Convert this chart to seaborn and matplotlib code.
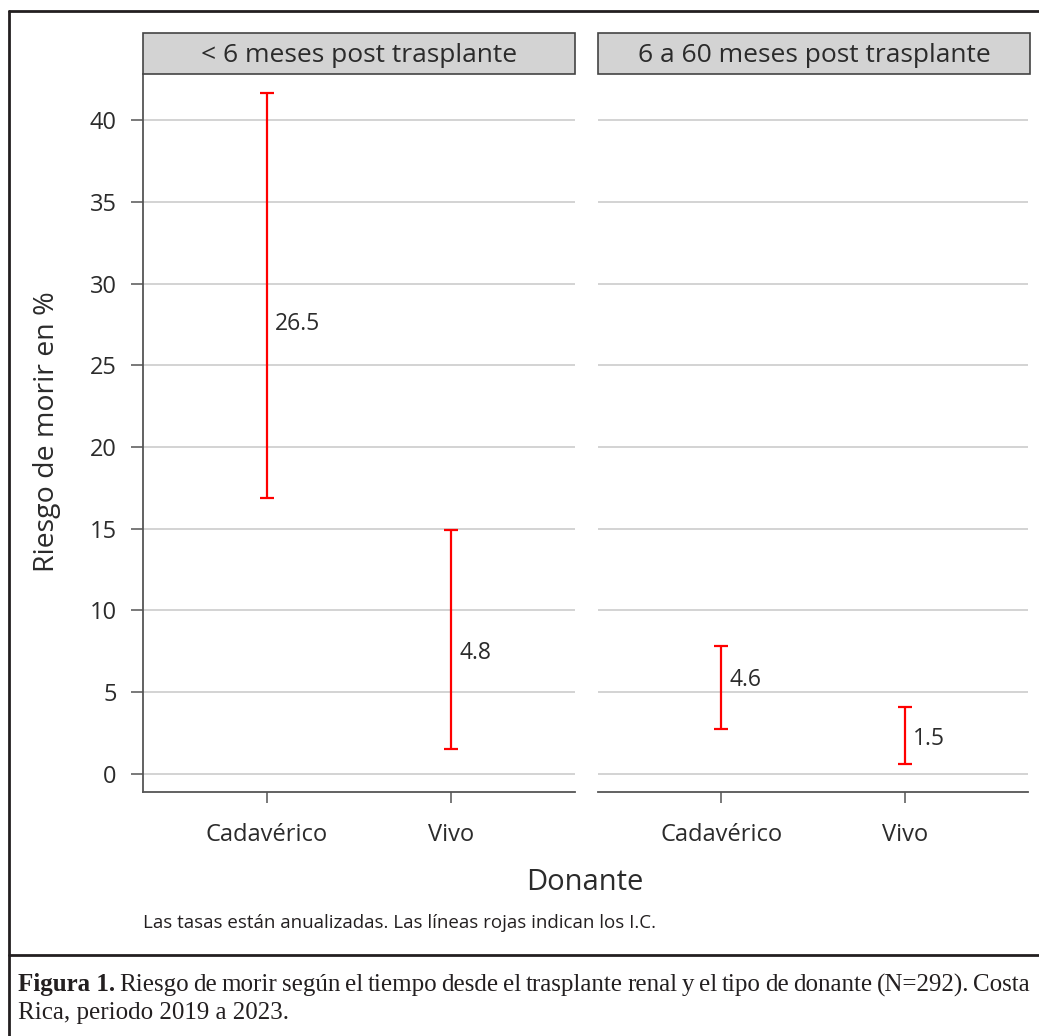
import pandas as pd
import seaborn as sns
import matplotlib.pyplot as plt
from matplotlib.lines import Line2D
from matplotlib.patches import Rectangle

# datos
periodos = ["< 6 meses post trasplante", "6 a 60 meses post trasplante"]
donantes = ["Cadavérico", "Vivo"]
periodo = [periodos[0], periodos[0], periodos[1], periodos[1]]
donante = ["Cadavérico", "Vivo", "Cadavérico", "Vivo"]
riesgo = [26.5, 4.8, 4.6, 1.5]
ic_inf = [16.9, 1.5, 2.7, 0.6]
ic_sup = [41.7, 14.9, 7.8, 4.05]
etiqueta_y = [27.5, 7.4, 5.7, 2.1]

df = pd.DataFrame({"periodo": periodo, "donante": donante, "riesgo": riesgo,
                   "ic_inf": ic_inf, "ic_sup": ic_sup, "etiqueta_y": etiqueta_y})
df["pos"] = df["donante"].map({d: i for i, d in enumerate(donantes)})

sns.set_theme(style="white")
plt.rcParams["font.family"] = ["Open Sans", "DejaVu Sans"]
texto = "#2b2b2b"

W, H = 1039, 1036
g = sns.FacetGrid(df, col="periodo", col_order=periodos, sharey=True)
fig = g.figure
fig.set_size_inches(W / 100, H / 100)
fig.set_dpi(100)


def intervalo(data, **kws):
    ax = plt.gca()
    ax.errorbar(data["pos"], data["ic_inf"],
                yerr=[[0] * len(data), data["ic_sup"] - data["ic_inf"]],
                fmt="none", ecolor="#ff0000", elinewidth=1.6,
                capsize=5, capthick=1.6)
    for _, r in data.iterrows():
        ax.text(r["pos"] + 0.045, r["etiqueta_y"], f"{r['riesgo']:.1f}",
                fontsize=16.5, color=texto, va="center", ha="left")


g.map_dataframe(intervalo)


def px(x0, y0, x1, y1):
    return [x0 / W, 1 - y1 / H, (x1 - x0) / W, (y1 - y0) / H]


paneles = [(143, 575), (598, 1028)]
for i, ax in enumerate(g.axes.flat):
    x0, x1 = paneles[i]
    ax.set_position(px(x0, 74, x1, 792))
    ax.set_title("")
    ax.set_xlim(-0.67, 1.67)
    ax.set_ylim(-1.13, 42.84)
    ax.set_xticks([0, 1])
    ax.set_xticklabels(donantes)
    ax.set_yticks(range(0, 45, 5))
    ax.set_xlabel("")
    ax.set_ylabel("")
    ax.grid(axis="y", color="#c8c8c8", linewidth=1.1)
    ax.grid(axis="x", visible=False)
    ax.set_axisbelow(True)
    for s in ["top", "right"]:
        ax.spines[s].set_visible(False)
    ax.spines["bottom"].set_color("#555555")
    ax.spines["bottom"].set_linewidth(1.3)
    ax.spines["left"].set_color("#555555")
    ax.spines["left"].set_linewidth(1.3)
    ax.tick_params(axis="x", bottom=True, length=8, width=1.1, color="#555555",
                   labelsize=17, labelcolor=texto, pad=14)
    ax.tick_params(axis="y", left=(i == 0), length=9, width=1.1, color="#555555",
                   labelsize=17, labelcolor=texto, pad=10, labelleft=(i == 0))
    if i > 0:
        ax.spines["left"].set_visible(False)
    # tira del titulo
    sx1 = 1030 if i == 1 else x1
    fig.add_artist(Rectangle((x0 / W, 1 - 74 / H), (sx1 - x0) / W, 41 / H,
                             transform=fig.transFigure, facecolor="#d3d3d3",
                             edgecolor="#444444", linewidth=1.2))
    fig.text((x0 + sx1) / 2 / W, 1 - 55 / H, periodos[i], ha="center",
             va="center", fontsize=19, color=texto)

fig.text(47 / W, 1 - 432 / H, "Riesgo de morir en %", rotation=90,
         ha="center", va="center", fontsize=20.5, color=texto)
fig.text(585 / W, 1 - 882 / H, "Donante", ha="center", va="center",
         fontsize=21, color=texto)
fig.text(143 / W, 1 - 923 / H,
         "Las tasas están anualizadas. Las líneas rojas indican los I.C.",
         ha="left", va="center", fontsize=13.5, color="#231f20")

# marco
marco = dict(color="#231f20", linewidth=2, transform=fig.transFigure)
fig.add_artist(Line2D([9 / W, 9 / W], [0, 1 - 11 / H], **marco))
fig.add_artist(Line2D([9 / W, 1], [1 - 11 / H, 1 - 11 / H], **marco))
fig.add_artist(Line2D([9 / W, 1], [1 - 955 / H, 1 - 955 / H], **marco))

# leyenda de la figura, linea 1 justificada
serif = ["Liberation Serif", "DejaVu Serif"]
tam = 18
linea1 = [("Figura 1.", "bold")] + [(w, "normal") for w in
          "Riesgo de morir según el tiempo desde el trasplante renal y el tipo de donante (N=292). Costa".split()]
renderer = fig.canvas.get_renderer()
x_ini, x_fin = 18, 1030
while True:
    piezas = []
    for w, peso in linea1:
        t = fig.text(0, 1 - 985 / H, w, fontsize=tam, family=serif, weight=peso,
                     color="#231f20", va="center", ha="left")
        piezas.append((t, t.get_window_extent(renderer).width))
    hueco = (x_fin - x_ini - sum(a for _, a in piezas)) / (len(piezas) - 1)
    if hueco >= 3:
        break
    for t, _ in piezas:
        t.remove()
    tam -= 0.25
x = x_ini
for t, ancho in piezas:
    t.set_x(x / W)
    x += ancho + hueco
fig.text(x_ini / W, 1 - 1013 / H, "Rica, periodo 2019 a 2023.", fontsize=tam,
         family=serif, color="#231f20", va="center", ha="left")

fig.savefig("out.png", dpi=100)
